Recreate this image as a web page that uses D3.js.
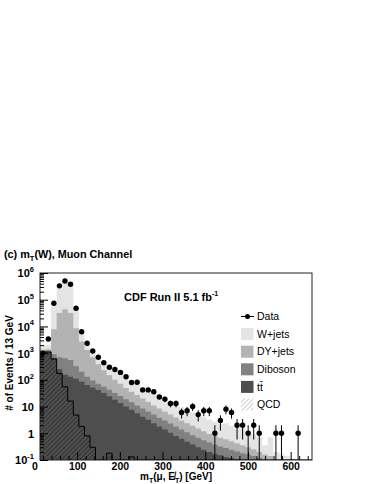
<!DOCTYPE html>
<html>
<head>
<meta charset="utf-8">
<script src="https://cdn.jsdelivr.net/npm/d3@7"></script>
<style>
body { margin: 0; background: #fff; }
text { font-family: "Liberation Sans", Arial, sans-serif; }
</style>
</head>
<body>
<div id="chart"></div>
<script>
// 13 GeV bins, first edge at 13 GeV, 49 bins up to 650 GeV
const binLow = [13,26,39,52,65,78,91,104,117,130,143,156,169,182,195,208,221,234,247,260,273,286,299,312,325,338,351,364,377,390,403,416,429,442,455,468,481,494,507,520,533,546,559,572,585,598,611,624,637];

const dataCounts = [1000,3400,74000,330000,500000,380000,48000,6300,2350,1200,700,440,295,245,190,131,80,81,42,42,36,23,19,13,13,6,7,10,5,7,7,1,3,8,6,2,2,1,2,1,0,0,1,1,0,0,1,0,0];

const qcd = [1100,1100,600,175,55,16,4.8,1.8,0.8,0.3,0,0,0.18,0,0,0,0.13,0,0,0,0,0,0,0,0,0,0,0,0,0,0,0,0,0,0,0,0,0,0,0,0,0,0,0,0,0,0,0,0];
const ttbar = [45,55,65,80,100,115,105,83,64,52,42,32,24,18,13.5,10,7.4,5.6,4.2,3.2,2.4,1.8,1.4,1.05,0.8,0.62,0.48,0.38,0.3,0.24,0.2,0.17,0.15,0.13,0.12,0.11,0.1,0.09,0.08,0.07,0.06,0.05,0.04,0.03,0.02,0.02,0.02,0.02,0.02];
const diboson = [85,105,235,445,495,419,210,115,65,43,30,23,18,14,11.5,9,7,5.4,4.3,3.3,2.6,2.0,1.6,1.25,1.0,0.78,0.62,0.47,0.38,0.31,0.25,0.21,0.17,0.15,0.12,0.1,0.08,0.07,0.06,0.05,0.04,0.03,0.02,0.02,0.02,0.02,0.02,0.02,0.02];
const dyjets = [120,140,6900,31300,43350,31450,8180,2500,1170,605,308,175,108,68,47,31,21.5,16,11.5,8.5,6,4.7,3.5,2.7,2.1,1.6,1.3,1.05,0.82,0.65,0.5,0.42,0.36,0.32,0.26,0.21,0.18,0.14,0.11,0.08,0.06,0.06,0.04,0.03,0.02,0.02,0.02,0.02,0.02];
const wjets = [550,600,67200,248000,376000,328000,41500,3800,1100,550,340,220,160,130,103,80,59,48,35,28,23,17.5,13.5,10.5,8.1,6.5,5.1,4.1,3.3,2.8,2.35,1.9,1.6,1.8,1.4,1.2,1.15,0.9,0.65,0.5,0.2,0.55,0.1,0.09,0.08,0.06,0.04,0.03,0.02];

const xTickLabels = [0,100,200,300,400,500,600];
const yDecades = [0.1,1,10,100,1e3,1e4,1e5,1e6];

const legendItems = [
    {key: "wjets", label: "W+jets", color: "#e4e4e4"},
    {key: "dyjets", label: "DY+jets", color: "#b3b3b3"},
    {key: "diboson", label: "Diboson", color: "#818181"},
    {key: "ttbar", label: "tt\u0304", color: "#4e4e4e"},
    {key: "qcd", label: "QCD", color: null}
];

const width = 374, height = 484;
const frame = {left: 40, right: 312, top: 273, bottom: 460};
const binWidth = 13;

const svg = d3.select("#chart")
    .append("svg")
    .attr("width", width)
    .attr("height", height)
    .attr("viewBox", `0 0 ${width} ${height}`);

const xScale = d3.scaleLinear().domain([13, 650]).range([frame.left, frame.right]);
const yScale = d3.scaleLog().domain([0.1, 1e6]).range([frame.bottom, frame.top]);

const defs = svg.append("defs");
defs.append("clipPath").attr("id", "frameClip")
    .append("rect")
    .attr("x", frame.left).attr("y", frame.top)
    .attr("width", frame.right - frame.left).attr("height", frame.bottom - frame.top);

const hatch = (id, color, w) => {
    const p = defs.append("pattern")
        .attr("id", id)
        .attr("patternUnits", "userSpaceOnUse")
        .attr("width", 3.2).attr("height", 3.2)
        .attr("patternTransform", "rotate(45)");
    p.append("line").attr("x1", 0).attr("y1", 0).attr("x2", 0).attr("y2", 3.2)
        .attr("stroke", color).attr("stroke-width", w);
};
hatch("hatchPlot", "#111", 0.9);
hatch("hatchLegend", "#777", 0.7);

// stack the backgrounds, QCD at the bottom
const keys = ["qcd", "ttbar", "diboson", "dyjets", "wjets"];
const series = {qcd, ttbar, diboson, dyjets, wjets};
const rows = binLow.map((_, i) => Object.fromEntries(keys.map(k => [k, series[k][i]])));
const stacked = d3.stack().keys(keys)(rows);

const yTop = v => v > 0 ? Math.min(yScale(v), frame.bottom) : frame.bottom;

const stepPoints = layer => layer.flatMap((d, i) => [[binLow[i], d[1]], [binLow[i] + binWidth, d[1]]]);

const area = d3.area()
    .x(d => xScale(d[0]))
    .y0(frame.bottom)
    .y1(d => yTop(d[1]));

const plot = svg.append("g").attr("clip-path", "url(#frameClip)");

// draw cumulative sums from the top of the stack down
[...stacked].reverse().forEach(layer => {
    const item = legendItems.find(l => l.key === layer.key);
    plot.append("path")
        .datum(stepPoints(layer))
        .attr("fill", layer.key === "qcd" ? "url(#hatchPlot)" : item.color)
        .attr("d", area);
});

// QCD outline
const qcdLine = d3.line().x(d => xScale(d[0])).y(d => yTop(d[1]));
plot.append("path")
    .datum(stepPoints(stacked[0]))
    .attr("fill", "none")
    .attr("stroke", "#000")
    .attr("stroke-width", 1)
    .attr("d", qcdLine);

// data points with poisson errors
const points = binLow.map((lo, i) => ({x: lo + binWidth / 2, n: dataCounts[i]})).filter(d => d.n > 0);
plot.selectAll(".err")
    .data(points)
    .join("line")
    .attr("class", "err")
    .attr("x1", d => xScale(d.x)).attr("x2", d => xScale(d.x))
    .attr("y1", d => yScale(d.n + Math.sqrt(d.n)))
    .attr("y2", d => yTop(d.n - Math.sqrt(d.n)))
    .attr("stroke", "#000")
    .attr("stroke-width", 1);
plot.selectAll(".pt")
    .data(points)
    .join("circle")
    .attr("class", "pt")
    .attr("cx", d => xScale(d.x))
    .attr("cy", d => yScale(d.n))
    .attr("r", 2.7)
    .attr("fill", "#000");

// frame
svg.append("rect")
    .attr("x", frame.left).attr("y", frame.top)
    .attr("width", frame.right - frame.left).attr("height", frame.bottom - frame.top)
    .attr("fill", "none").attr("stroke", "#222").attr("stroke-width", 1);

// x axis ticks (inward) and labels
const xMinor = d3.range(20, 650, 20).filter(v => v % 100 !== 0);
svg.append("g")
    .attr("transform", `translate(0, ${frame.bottom})`)
    .call(d3.axisBottom(xScale).tickValues(xMinor).tickSize(-4).tickFormat(""))
    .call(g => g.select(".domain").remove());
svg.append("g")
    .attr("transform", `translate(0, ${frame.bottom})`)
    .call(d3.axisBottom(xScale).tickValues([100,200,300,400,500,600]).tickSize(-8).tickFormat(""))
    .call(g => g.select(".domain").remove());
svg.append("g")
    .attr("transform", `translate(0, ${frame.bottom})`)
    .call(d3.axisBottom(xScale).tickValues(xTickLabels).tickSize(0).tickPadding(3).tickFormat(d3.format("d")))
    .call(g => g.select(".domain").remove())
    .call(g => g.selectAll("text").attr("font-family", "Liberation Sans, Arial, sans-serif")
        .attr("font-size", 10.5).attr("font-weight", "bold").attr("fill", "#000"));

// y axis ticks (inward) and labels
const yMinor = yDecades.slice(0, -1).flatMap(d => d3.range(2, 10).map(m => m * d));
svg.append("g")
    .attr("transform", `translate(${frame.left}, 0)`)
    .call(d3.axisLeft(yScale).tickValues(yMinor).tickSize(-4).tickFormat(""))
    .call(g => g.select(".domain").remove());
svg.append("g")
    .attr("transform", `translate(${frame.left}, 0)`)
    .call(d3.axisLeft(yScale).tickValues(yDecades).tickSize(-8).tickFormat(""))
    .call(g => g.select(".domain").remove());

const yLabels = svg.append("g")
    .attr("transform", `translate(${frame.left}, 0)`)
    .call(d3.axisLeft(yScale).tickValues(yDecades).tickSize(0).tickPadding(6).tickFormat(() => ""))
    .call(g => g.select(".domain").remove());
yLabels.selectAll(".tick text").each(function(d) {
    const t = d3.select(this)
        .attr("font-family", "Liberation Sans, Arial, sans-serif")
        .attr("font-size", 11).attr("font-weight", "bold").attr("fill", "#000")
        .attr("dy", "0.36em");
    const exp = Math.round(Math.log10(d));
    if (exp === 0) { t.text("1"); return; }
    if (exp === 1) { t.text("10"); return; }
    t.append("tspan").text("10");
    t.append("tspan").attr("font-size", 7.5).attr("dy", "-0.75em").text(exp);
});

// axis titles
const xTitle = svg.append("text")
    .attr("x", 212).attr("y", 480)
    .attr("text-anchor", "end")
    .attr("font-size", 10).attr("font-weight", "bold");
xTitle.append("tspan").text("m");
xTitle.append("tspan").attr("font-size", 7).attr("dy", 2.5).text("T");
xTitle.append("tspan").attr("dy", -2.5).text("(\u03bc, E\u0338");
xTitle.append("tspan").attr("font-size", 7).attr("dy", 2.5).text("T");
xTitle.append("tspan").attr("dy", -2.5).text(") [GeV]");

svg.append("text")
    .attr("transform", `translate(13, 363) rotate(-90)`)
    .attr("text-anchor", "middle")
    .attr("font-size", 10).attr("font-weight", "bold")
    .text("# of Events / 13 GeV");

// panel title
const title = svg.append("text")
    .attr("x", 4).attr("y", 258)
    .attr("font-size", 10.8).attr("font-weight", "bold");
title.append("tspan").text("(c) m");
title.append("tspan").attr("font-size", 7.5).attr("dy", 2.5).text("T");
title.append("tspan").attr("dy", -2.5).text("(W), Muon Channel");

const cdf = svg.append("text")
    .attr("x", 124).attr("y", 301)
    .attr("font-size", 11).attr("font-weight", "bold");
cdf.append("tspan").text("CDF Run II 5.1 fb");
cdf.append("tspan").attr("font-size", 7).attr("dy", -5).text("-1");

// legend
const legend = svg.append("g");
const rowY = 316.5, rowStep = 17.6;
legend.append("line")
    .attr("x1", 241).attr("x2", 254).attr("y1", rowY).attr("y2", rowY)
    .attr("stroke", "#000").attr("stroke-width", 1);
legend.append("circle").attr("cx", 247.5).attr("cy", rowY).attr("r", 2.5).attr("fill", "#000");
legend.append("text").attr("x", 257).attr("y", rowY).attr("dy", "0.36em")
    .attr("font-size", 10.5).text("Data");

legendItems.forEach((item, i) => {
    const cy = rowY + rowStep * (i + 1);
    legend.append("rect")
        .attr("x", 241).attr("y", cy - 6)
        .attr("width", 12.5).attr("height", 12)
        .attr("fill", item.color || "url(#hatchLegend)");
    legend.append("text").attr("x", 257).attr("y", cy).attr("dy", "0.36em")
        .attr("font-size", 10.5).text(item.label);
});
</script>
</body>
</html>
